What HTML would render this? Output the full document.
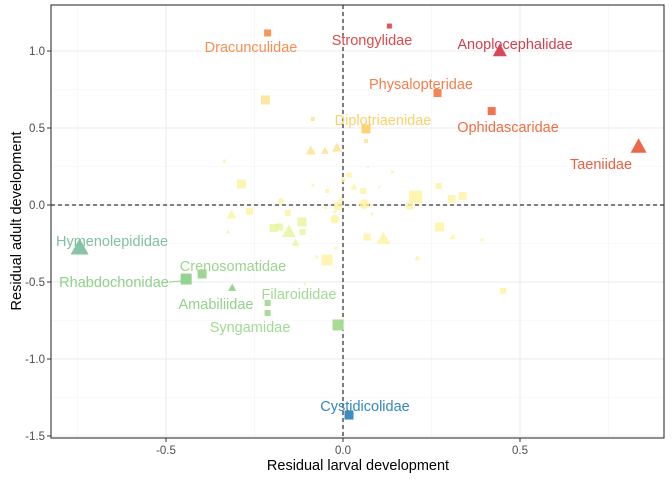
<!DOCTYPE html>
<html><head><meta charset="utf-8"><style>
body{margin:0;background:#fff;font-family:"Liberation Sans",sans-serif}
svg text{font-family:"Liberation Sans",sans-serif}
</style></head><body>
<svg id="chart" width="672" height="480" xmlns="http://www.w3.org/2000/svg"></svg>
<script>
const xs=[-0.213,0.131,0.443,0.267,0.420,0.835,0.065,-0.744,-0.443,-0.398,-0.313,-0.213,-0.213,0.017,-0.014,
-0.219,-0.085,0.065,-0.091,-0.051,-0.017,-0.335,0.071,0.139,0.017,-0.287,-0.085,0,0.031,0.102,-0.045,0.057,0.270,0.205,0.307,0.338,-0.176,-0.006,-0.014,0.060,0.082,0.188,-0.315,-0.264,-0.156,-0.048,-0.023,0.082,-0.116,-0.023,-0.324,-0.196,-0.179,-0.153,-0.114,-0.134,0.068,0.114,0.273,0.310,0.392,-0.020,-0.074,-0.045,0.210,-0.108,0.452];
const ys=[1.117,1.162,0.999,0.727,0.610,0.377,0.494,-0.279,-0.481,-0.448,-0.539,-0.636,-0.701,-1.364,-0.779,
0.682,0.558,0.416,0.351,0.351,0.370,0.286,0.247,0.214,0.195,0.136,0.130,0.162,0.117,0.117,0.091,0.091,0.123,0.052,0.039,0.058,0.026,0.039,-0.006,0.006,0,-0.006,-0.065,-0.039,-0.052,-0.019,-0.045,-0.058,-0.110,-0.091,-0.175,-0.149,-0.143,-0.175,-0.175,-0.247,-0.208,-0.221,-0.143,-0.208,-0.227,-0.279,-0.338,-0.357,-0.344,-0.513,-0.558];
const shapes=["s","s","t","s","s","t","s","t","s","s","t","s","s","s","s",
"s","s","s","t","t","t","s","t","c","s","s","c","s","t","t","s","s","s","s","s","s","c","t","s","c","c","s","t","s","s","c","c","c","s","c","t","s","s","t","s","t","s","t","s","t","s","c","s","s","t","t","s"];
const sizes=[7,5,14,8,8,16,9,18,11,9,8,6,6,9,11,
9,4,4,10,8,10,3,3,3,5,9,3,4,7,3,4,6,6,13,8,8,6,6,8,10,3,7,10,7,6,3,3,3,9,9,4,8,7,14,6,8,7,14,9,6,3,3,3,11,6,3,6];
const names=["Dracunculidae","Strongylidae","Anoplocephalidae","Physalopteridae","Ophidascaridae","Taeniidae","Diplotriaenidae","Hymenolepididae","Rhabdochonidae","Crenosomatidae","Amabiliidae","Filaroididae","Syngamidae","Cystidicolidae"];
const labelX=[251,372,515,421,508,601,383,112,114,233,216,299,250,365];
const labelY=[47,40,44,84,127,164,120,241,282,266,304,294,327,406];
const cols=["#f98e52","#e04a4a","#d53e4f","#f67d4a","#f46d43","#ea6140","#fdd06b","#82c0a0","#8fd18a","#9bd48e","#93d18a","#a3d995","#a3d995","#3288bd","#a5d98f"];
const xTicks=[-0.5,0,0.5], yTicks=[-1.5,-1.0,-0.5,0,0.5,1.0];
const X0=51,X1=664,Y0=5,Y1=438;
const sx=v=>343+v*354, sy=v=>205-v*154;
const svg=document.getElementById('chart');const NS="http://www.w3.org/2000/svg";
function mk(t,a,p){const e=document.createElementNS(NS,t);for(const k in a)e.setAttribute(k,a[k]);(p||svg).appendChild(e);return e;}
const grid=mk('g',{});


[-0.75,-0.25,0.25,0.75].forEach(v=>mk('line',{x1:sx(v),x2:sx(v),y1:Y0,y2:Y1,stroke:'#f3f3f3','stroke-width':0.6},grid));
[-1.25,-0.75,-0.25,0.25,0.75].forEach(v=>mk('line',{x1:X0,x2:X1,y1:sy(v),y2:sy(v),stroke:'#f3f3f3','stroke-width':0.6},grid));
xTicks.forEach(v=>mk('line',{x1:sx(v),x2:sx(v),y1:Y0,y2:Y1,stroke:'#ebebeb','stroke-width':1.1},grid));
yTicks.forEach(v=>mk('line',{x1:X0,x2:X1,y1:sy(v),y2:sy(v),stroke:'#ebebeb','stroke-width':1.1},grid));
const ref=mk('g',{});


mk('line',{x1:sx(0),x2:sx(0),y1:Y0,y2:Y1,stroke:'#000','stroke-dasharray':'4,3'},ref);
mk('line',{x1:X0,x2:X1,y1:sy(0),y2:sy(0),stroke:'#000','stroke-dasharray':'4,3'},ref);
const pts=mk('g',{});


xs.forEach((x,i)=>{
  const cx=sx(x),cy=sy(ys[i]),s=sizes[i];
  let c=cols[i];
  if(!c){c=ys[i]>0.3?'#fee08b':(x<-0.1&&ys[i]<-0.1?'#e6f598':'#fff3a0');}
  let e;
  if(shapes[i]==='s')e=mk('rect',{x:cx-s/2,y:cy-s/2,width:s,height:s,fill:c},pts);
  else if(shapes[i]==='c')e=mk('circle',{cx:cx,cy:cy,r:s/2,fill:c},pts);
  else{const h=s*0.9;e=mk('polygon',{points:`${cx},${cy-h*0.6} ${cx-s/2},${cy+h*0.4} ${cx+s/2},${cy+h*0.4}`,fill:c},pts);}
  e.setAttribute('opacity',i<15?0.95:0.8);
  
  
});
mk('line',{x1:169,x2:181,y1:282,y2:281,stroke:'#8fd18a','stroke-width':1});
names.forEach((n,i)=>{
  const t=mk('text',{x:labelX[i],y:labelY[i]+5,'text-anchor':'middle','font-size':14.5,fill:cols[i]});
  t.textContent=n;
  
  
});
const frame=mk('rect',{x:X0,y:Y0,width:X1-X0,height:Y1-Y0,fill:'none',stroke:'#333','stroke-width':1.1});


const xa=mk('g',{});


xTicks.forEach(v=>{mk('line',{x1:sx(v),x2:sx(v),y1:Y1,y2:Y1+4,stroke:'#333'},xa);
  const t=mk('text',{x:sx(v),y:Y1+16,'text-anchor':'middle','font-size':11.5,fill:'#4d4d4d'},xa);t.textContent=v.toFixed(1);});
const ya=mk('g',{});


yTicks.forEach(v=>{mk('line',{x1:X0-4,x2:X0,y1:sy(v),y2:sy(v),stroke:'#333'},ya);
  const t=mk('text',{x:X0-6,y:sy(v)+4,'text-anchor':'end','font-size':11.5,fill:'#4d4d4d'},ya);t.textContent=v.toFixed(1);});
const xt=mk('text',{x:358,y:470,'text-anchor':'middle','font-size':14.5,fill:'#000'});
xt.textContent='Residual larval development';


const yt=mk('text',{x:0,y:0,'text-anchor':'middle','font-size':14.5,fill:'#000',transform:'translate(21,221) rotate(-90)'});
yt.textContent='Residual adult development';


</script>
</body></html>
